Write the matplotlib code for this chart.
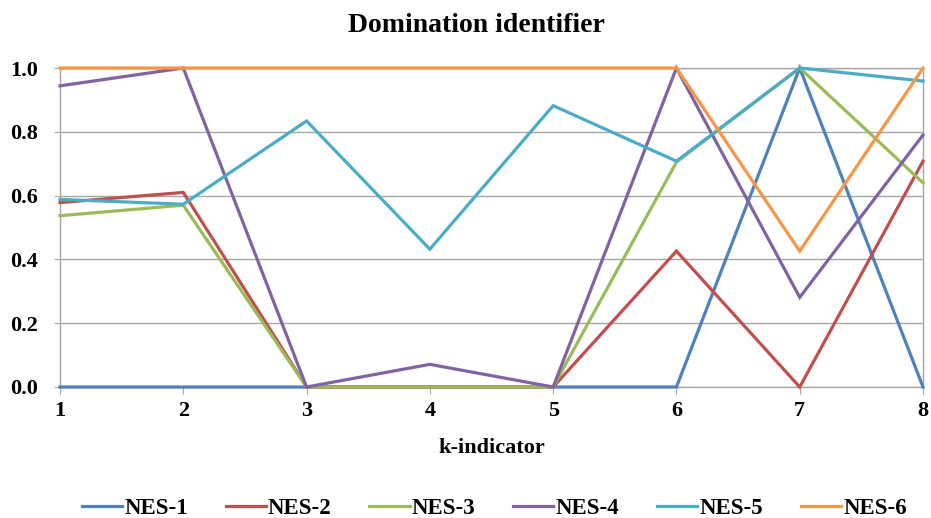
import matplotlib

matplotlib.use("Agg")
import matplotlib.pyplot as plt

# k-indicator positions and normalised domination scores per NES
K = [1, 2, 3, 4, 5, 6, 7, 8]
NES_1 = [0.0, 0.0, 0.0, 0.0, 0.0, 0.0, 1.0, 0.0]
NES_2 = [0.578, 0.61, 0.0, 0.0, 0.0, 0.426, 0.0, 0.708]
NES_3 = [0.537, 0.57, 0.0, 0.0, 0.0, 0.705, 1.0, 0.64]
NES_4 = [0.944, 1.0, 0.0, 0.071, 0.0, 1.0, 0.281, 0.79]
NES_5 = [0.588, 0.573, 0.834, 0.432, 0.882, 0.708, 1.0, 0.959]
NES_6 = [1.0, 1.0, 1.0, 1.0, 1.0, 1.0, 0.426, 1.0]

SERIES = [("NES-1", NES_1), ("NES-2", NES_2), ("NES-3", NES_3),
          ("NES-4", NES_4), ("NES-5", NES_5), ("NES-6", NES_6)]
COLORS = ["#4F81BD", "#C0504D", "#9BBB59", "#8064A2", "#4BACC6", "#F79646"]
GRID = "#A6A6A6"

plt.rcParams["font.family"] = ["Liberation Serif", "DejaVu Serif"]
plt.rcParams["font.weight"] = "bold"

fig = plt.figure(figsize=(9.31, 5.18), dpi=100)
ax = fig.add_axes([60 / 931, 1 - 387 / 518, 863 / 931, 319 / 518])

for (name, vals), c in zip(SERIES, COLORS):
    ax.plot(K, vals, color=c, lw=2.3, label=name, solid_joinstyle="miter", clip_on=False, zorder=3)

ax.set_xlim(1, 8)
ax.set_ylim(0, 1)
ax.set_xticks(K)
ax.set_yticks([0.0, 0.2, 0.4, 0.6, 0.8, 1.0])
ax.set_yticklabels([f"{v:.1f}" for v in [0.0, 0.2, 0.4, 0.6, 0.8, 1.0]])
ax.yaxis.grid(True, color=GRID, lw=1)
ax.set_axisbelow(True)
for side in ["left", "right", "top", "bottom"]:
    ax.spines[side].set_color(GRID)
    ax.spines[side].set_linewidth(1)
ax.tick_params(axis="y", length=4, color=GRID, pad=12, labelsize=16)
ax.tick_params(axis="x", length=5, color=GRID, pad=5, labelsize=16)
for lbl in ax.get_xticklabels() + ax.get_yticklabels():
    lbl.set_fontweight("bold")

ax.set_xlabel("k-indicator", fontsize=16, fontweight="bold", labelpad=12)
fig.text(0.512, 1 - 25 / 518, "Domination identifier", ha="center", va="center",
         fontsize=20, fontweight="bold")

fig.legend(loc="center", bbox_to_anchor=(0.531, 1 - 508 / 518), ncol=6, frameon=False,
           handlelength=1.75, handletextpad=0.1, columnspacing=1.65,
           prop={"size": 16.5, "weight": "bold"})

fig.savefig("out.png", dpi=100)
